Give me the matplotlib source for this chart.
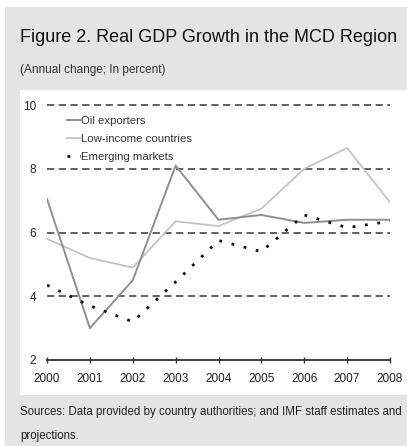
import matplotlib.pyplot as plt
from matplotlib.patches import Rectangle

years = [2000, 2001, 2002, 2003, 2004, 2005, 2006, 2007, 2008]
oil_exporters = [7.05, 3.0, 4.5, 8.1, 6.4, 6.55, 6.3, 6.4, 6.4]
low_income = [5.8, 5.2, 4.9, 6.35, 6.2, 6.75, 8.0, 8.65, 6.95]
emerging = [4.35, 3.7, 3.2, 4.45, 5.75, 5.4, 6.55, 6.15, 6.35]
y_ticks = [2, 4, 6, 8, 10]

plt.rcParams["font.family"] = ["Liberation Sans", "DejaVu Sans"]

W, H = 407, 446
fig = plt.figure(figsize=(W / 100, H / 100), dpi=100)
fig.patch.set_facecolor("white")

# gray outer panel and white chart panel
fig.add_artist(Rectangle((5 / W, 0), 1, 1 - 7 / H, transform=fig.transFigure,
                         facecolor="#e4e4e4", edgecolor="none", zorder=-2))
fig.add_artist(Rectangle((20 / W, 1 - 395 / H), 1, (395 - 90) / H,
                         transform=fig.transFigure,
                         facecolor="white", edgecolor="none", zorder=-1))

fig.text(20 / W, 1 - 37 / H, "Figure 2. Real GDP Growth in the MCD Region",
         fontsize=13, color="#111111", va="center", ha="left")
fig.text(20 / W, 1 - 70 / H, "(Annual change; In percent)",
         fontsize=8.5, color="#333333", va="center", ha="left")
fig.text(20 / W, 1 - 412 / H,
         "Sources: Data provided by country authorities; and IMF staff estimates and",
         fontsize=8.3, color="#222222", va="center", ha="left")
fig.text(20 / W, 1 - 436 / H, "projections.",
         fontsize=8.3, color="#222222", va="center", ha="left")

ax = fig.add_axes([47 / W, 1 - 360 / H, (390 - 47) / W, (360 - 105) / H])
ax.set_facecolor("none")
ax.set_zorder(2)

for v in y_ticks[1:]:
    ax.axhline(v, color="#555555", lw=1.3, ls=(0, (4, 2.5)), zorder=1, clip_on=False)

ax.plot(years, oil_exporters, color="#8f8f8f", lw=1.4, label="Oil exporters", zorder=3)
ax.plot(years, low_income, color="#c4c4c4", lw=1.3, label="Low-income countries", zorder=2)
ax.plot(years, emerging, color="#111111", lw=2, ls=(0, (1, 3.5)),
        label="Emerging markets", zorder=4)

ax.set_xlim(2000, 2008)
ax.set_ylim(2, 10)
ax.set_xticks(years)
ax.set_xticklabels([str(y) for y in years])
ax.set_yticks(y_ticks)

for s in ["top", "right", "left"]:
    ax.spines[s].set_visible(False)
ax.spines["bottom"].set_color("#333333")
ax.spines["bottom"].set_linewidth(1.3)
ax.tick_params(axis="x", direction="inout", length=5, width=1, color="#333333",
               labelsize=8.5, labelcolor="#222222", pad=7)
ax.tick_params(axis="y", length=0, labelsize=8.5, labelcolor="#222222", pad=8)

leg = ax.legend(loc="upper left", bbox_to_anchor=(0.045, 0.975), frameon=False,
                fontsize=8.2, handlelength=1.1, handletextpad=0.15,
                labelspacing=0.7, borderaxespad=0.0)
for t in leg.get_texts():
    t.set_color("#333333")

fig.savefig("out.png", dpi=100)
